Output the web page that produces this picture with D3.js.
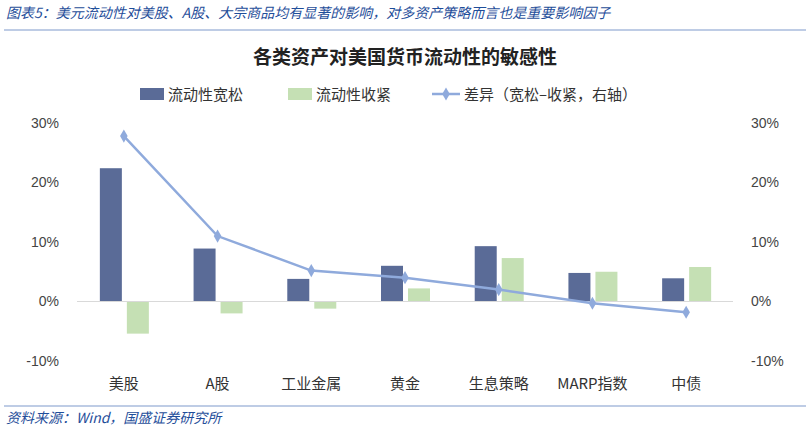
<!DOCTYPE html>
<html><head><meta charset="utf-8">
<script src="https://cdn.jsdelivr.net/npm/d3@7/dist/d3.min.js"></script>
<style>body{margin:0;background:#fff;font-family:"Noto Sans CJK SC",sans-serif;}</style>
</head><body><svg id="c" width="810" height="432"></svg>
<script>
// data
const categories = ['美股', 'A股', '工业金属', '黄金', '生息策略', 'MARP指数', '中债'];
const looseValues = [22.4, 8.9, 3.8, 6.0, 9.3, 4.8, 3.9];
const tightValues = [-5.4, -2.0, -1.2, 2.2, 7.3, 5.0, 5.8];
const diffValues = [27.8, 11.0, 5.2, 4.0, 2.0, -0.3, -1.8];
const tickValues = [-10, 0, 10, 20, 30];

const svg = d3.select('#c');
const blue = '#1f4e9a';

// header and footer
svg.append('text').attr('x', 6).attr('y', 18).attr('fill', blue)
    .attr('font-size', 14).attr('font-style', 'italic')
    .text('图表5：美元流动性对美股、A股、大宗商品均有显著的影响，对多资产策略而言也是重要影响因子');
svg.append('line').attr('x1', 4).attr('x2', 806).attr('y1', 30).attr('y2', 30)
    .attr('stroke', '#7f9acb').attr('stroke-width', 1.2);
svg.append('line').attr('x1', 4).attr('x2', 806).attr('y1', 406).attr('y2', 406)
    .attr('stroke', '#7f9acb').attr('stroke-width', 1.2);
svg.append('text').attr('x', 6).attr('y', 423).attr('fill', blue)
    .attr('font-size', 14).attr('font-style', 'italic')
    .text('资料来源：Wind，国盛证券研究所');

svg.append('text').attr('x', 405).attr('y', 64).attr('text-anchor', 'middle')
    .attr('font-size', 19).attr('font-weight', 'bold').attr('fill', '#222')
    .text('各类资产对美国货币流动性的敏感性');

// legend
const leg = svg.append('g').attr('font-size', 15).attr('fill', '#333');
leg.append('rect').attr('x', 140).attr('y', 88).attr('width', 24).attr('height', 12).attr('fill', '#5a6b97');
leg.append('text').attr('x', 168).attr('y', 100).text('流动性宽松');
leg.append('rect').attr('x', 288).attr('y', 88).attr('width', 24).attr('height', 12).attr('fill', '#c5e0b4');
leg.append('text').attr('x', 316).attr('y', 100).text('流动性收紧');
leg.append('line').attr('x1', 432).attr('x2', 460).attr('y1', 94).attr('y2', 94).attr('stroke', '#8faadc').attr('stroke-width', 2.5);
leg.append('path').attr('d', d3.symbol(d3.symbolDiamond, 50)()).attr('transform', 'translate(446,94)').attr('fill', '#8faadc');
leg.append('text').attr('x', 464).attr('y', 100).text('差异（宽松–收紧，右轴）');

// scales
const x = d3.scaleBand().domain(categories).range([77, 733]).padding(0);
const y = d3.scaleLinear().domain([-10, 30]).range([361, 123]);

const yl = svg.append('g').attr('transform', 'translate(62,0)')
    .call(d3.axisLeft(y).tickValues(tickValues).tickFormat(d => d + '%').tickSize(0));
const yr = svg.append('g').attr('transform', 'translate(748,0)')
    .call(d3.axisRight(y).tickValues(tickValues).tickFormat(d => d + '%').tickSize(0));
[yl, yr].forEach(a => {
    a.select('.domain').remove();
    a.selectAll('text').attr('font-size', 14).attr('fill', '#444').attr('font-family', 'Liberation Sans, sans-serif');
});

// bars
const bw = 22;
const cx = d => x(d) + x.bandwidth() / 2;
svg.append('g').selectAll('rect').data(categories).join('rect')
    .attr('x', d => cx(d) - bw - 2).attr('width', bw)
    .attr('y', (d, i) => y(Math.max(0, looseValues[i])))
    .attr('height', (d, i) => Math.abs(y(looseValues[i]) - y(0)))
    .attr('fill', '#5a6b97');
svg.append('g').selectAll('rect').data(categories).join('rect')
    .attr('x', d => cx(d) + 3).attr('width', bw)
    .attr('y', (d, i) => y(Math.max(0, tightValues[i])))
    .attr('height', (d, i) => Math.abs(y(tightValues[i]) - y(0)))
    .attr('fill', '#c5e0b4');

// zero line
svg.append('line').attr('x1', 77).attr('x2', 733).attr('y1', y(0)).attr('y2', y(0))
    .attr('stroke', '#d9d9d9');

// difference line
const line = d3.line().x((d, i) => cx(categories[i])).y(d => y(d));
svg.append('path').datum(diffValues).attr('d', line).attr('fill', 'none')
    .attr('stroke', '#8faadc').attr('stroke-width', 2.5);
svg.append('g').selectAll('path').data(diffValues).join('path')
    .attr('d', d3.symbol(d3.symbolDiamond, 50)())
    .attr('transform', (d, i) => `translate(${cx(categories[i])},${y(d)})`)
    .attr('fill', '#8faadc');

// category labels
svg.append('g').selectAll('text').data(categories).join('text')
    .attr('x', d => cx(d)).attr('y', 389).attr('text-anchor', 'middle')
    .attr('font-size', 15).attr('fill', '#333').text(d => d);
</script></body></html>
